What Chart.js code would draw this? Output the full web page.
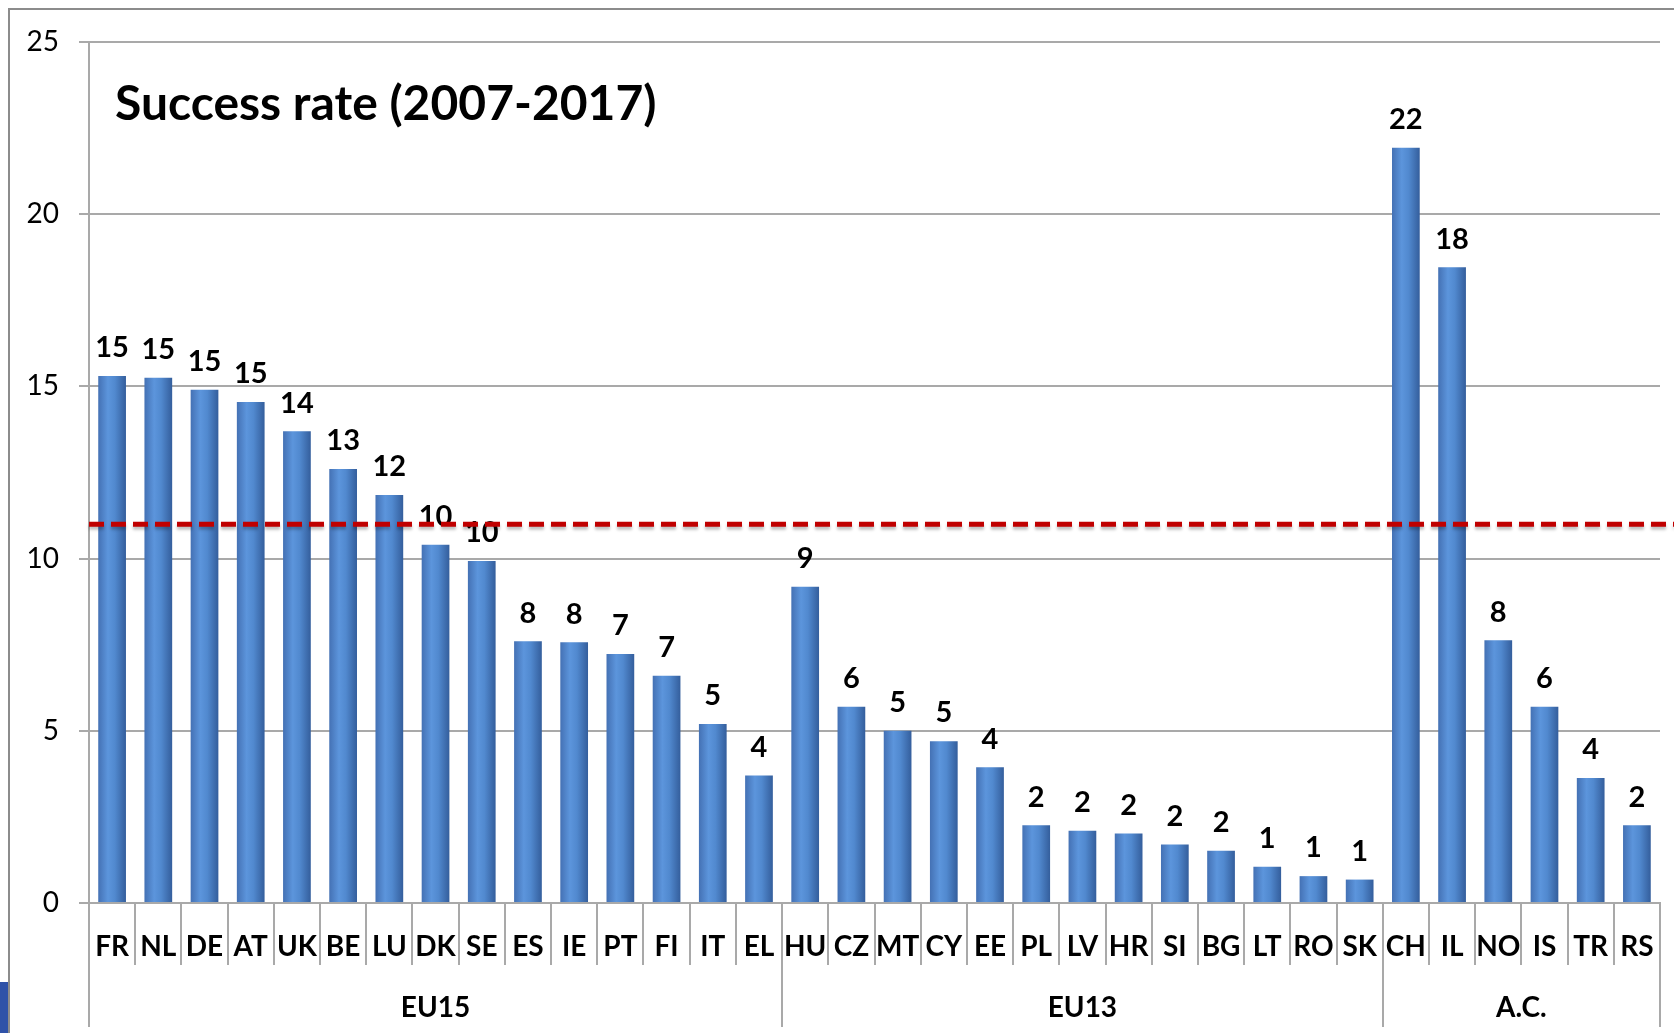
<!DOCTYPE html>
<html>
<head>
<meta charset="utf-8">
<title>Success rate (2007-2017)</title>
<script src="https://cdn.jsdelivr.net/npm/chart.js@4.4.1/dist/chart.umd.min.js"></script>
<style>
  html, body { margin: 0; padding: 0; background: #fff; overflow: hidden; }
  #wrap { position: relative; width: 1674px; height: 1033px; }
  #frame { position: absolute; left: 8px; top: 8px; right: -10px; bottom: -10px;
           border-left: 2px solid #8c8c8c; border-top: 2px solid #8c8c8c; }
  #corner { position: absolute; left: 0; top: 982px; width: 8px; height: 51px; background: #2f52a8; }
  canvas { position: absolute; left: 0; top: 0; }
</style>
</head>
<body>
<div id="wrap">
  <div id="frame"></div>
  <div id="corner"></div>
  <canvas id="successChart" width="1674" height="1033"></canvas>
</div>
<script>
// categories (countries), in the order they are shown
const countries = ['FR', 'NL', 'DE', 'AT', 'UK', 'BE', 'LU', 'DK', 'SE', 'ES', 'IE', 'PT', 'FI', 'IT', 'EL',
  'HU', 'CZ', 'MT', 'CY', 'EE', 'PL', 'LV', 'HR', 'SI', 'BG', 'LT', 'RO', 'SK',
  'CH', 'IL', 'NO', 'IS', 'TR', 'RS'];

// success rate in %
const successRate = [15.3, 15.25, 14.9, 14.55, 13.7, 12.6, 11.85, 10.4, 9.93, 7.6, 7.57, 7.23, 6.6, 5.2, 3.7,
  9.18, 5.7, 5.0, 4.7, 3.94, 2.26, 2.1, 2.02, 1.7, 1.52, 1.05, 0.78, 0.68,
  21.93, 18.46, 7.63, 5.7, 3.63, 2.26];

// country groups and how many countries each one holds
const groupNames = ['EU15', 'EU13', 'A.C.'];
const groupSizes = [15, 13, 6];

// overall average (dashed line)
const averageRate = 11;

const yTicks = [0, 5, 10, 15, 20, 25];

const fontName = 'Lato, "Open Sans", sans-serif';
const gridColor = '#a9a9a9';
const barShare = 0.6;

// gradient across each bar, darker at the edges
function barFill(context) {
  const chart = context.chart;
  const xScale = chart.scales.x;
  if (context.type !== 'data' || !xScale || !chart.chartArea) return '#4f81bd';
  const center = xScale.getPixelForValue(context.dataIndex);
  const half = (xScale.width / countries.length) * barShare / 2;
  if (!isFinite(center) || !isFinite(half)) return '#4f81bd';
  const g = chart.ctx.createLinearGradient(center - half, 0, center + half, 0);
  g.addColorStop(0, '#4471b4');
  g.addColorStop(0.35, '#5c95dc');
  g.addColorStop(0.6, '#5189cf');
  g.addColorStop(1, '#345e9c');
  return g;
}

// title, category labels, groups, value labels and the average line
const overlayPlugin = {
  id: 'overlay',
  afterDatasetsDraw(chart) {
    const ctx = chart.ctx;
    const x = chart.scales.x;
    const y = chart.scales.y;
    const area = chart.chartArea;
    const step = x.width / countries.length;

    ctx.save();
    ctx.fillStyle = '#000';
    ctx.textAlign = 'left';
    ctx.textBaseline = 'alphabetic';
    ctx.font = 'bold 48px ' + fontName;
    ctx.fillText('Success rate (2007-2017)', 115, 120);

    // value labels above bars
    ctx.textAlign = 'center';
    ctx.textBaseline = 'middle';
    ctx.font = 'bold 29px ' + fontName;
    const meta = chart.getDatasetMeta(0);
    meta.data.forEach((bar, i) => {
      ctx.fillText(Math.round(successRate[i]), bar.x, bar.y - 28);
    });

    // country labels
    ctx.font = 'bold 28px ' + fontName;
    countries.forEach((c, i) => {
      ctx.fillText(c, x.getPixelForValue(i), area.bottom + 44);
    });

    // group labels and long separators
    ctx.strokeStyle = gridColor;
    ctx.lineWidth = 2;
    ctx.font = 'bold 28px ' + fontName;
    let start = 0;
    const edges = [0];
    groupNames.forEach((name, g) => {
      const end = start + groupSizes[g];
      const left = x.left + start * step;
      const right = x.left + end * step;
      ctx.fillText(name, (left + right) / 2, area.bottom + 105);
      edges.push(end);
      start = end;
    });
    edges.forEach(e => {
      const px = Math.round(x.left + e * step);
      ctx.beginPath();
      ctx.moveTo(px, area.bottom);
      ctx.lineTo(px, area.bottom + 124);
      ctx.stroke();
    });

    // dashed average line
    const avgY = y.getPixelForValue(averageRate);
    ctx.strokeStyle = '#c00000';
    ctx.lineWidth = 5;
    ctx.setLineDash([15, 7]);
    ctx.shadowColor = 'rgba(0, 0, 0, 0.25)';
    ctx.shadowBlur = 3;
    ctx.shadowOffsetY = 3;
    ctx.beginPath();
    ctx.moveTo(area.left, avgY);
    ctx.lineTo(chart.width, avgY);
    ctx.stroke();
    ctx.restore();
  }
};

function drawChart() {
  const ctx = document.getElementById('successChart').getContext('2d');
  new Chart(ctx, {
    type: 'bar',
    data: {
      labels: countries,
      datasets: [{
        label: 'Success rate',
        data: successRate,
        backgroundColor: barFill,
        borderWidth: 0,
        barPercentage: barShare,
        categoryPercentage: 1.0
      }]
    },
    options: {
      responsive: false,
      animation: false,
      layout: { padding: { left: 0, top: 42, right: 14, bottom: 0 } },
      plugins: {
        legend: { display: false },
        tooltip: { enabled: false }
      },
      scales: {
        x: {
          grid: { drawOnChartArea: false, offset: true, tickLength: 62, color: gridColor, lineWidth: 2 },
          border: { color: gridColor, width: 2 },
          ticks: { display: false },
          afterFit: s => { s.height = 130; }
        },
        y: {
          min: 0,
          max: 25,
          afterBuildTicks: s => { s.ticks = yTicks.map(v => ({ value: v })); },
          grid: { color: gridColor, lineWidth: 2, tickLength: 10 },
          border: { color: gridColor, width: 2 },
          ticks: { color: '#000', padding: 20, font: { family: fontName, size: 28 } },
          afterFit: s => { s.width = 89; }
        }
      }
    },
    plugins: [overlayPlugin]
  });
}

Promise.all([
  document.fonts.load('bold 29px Lato'),
  document.fonts.load('28px Lato')
]).then(drawChart, drawChart);
</script>
</body>
</html>
